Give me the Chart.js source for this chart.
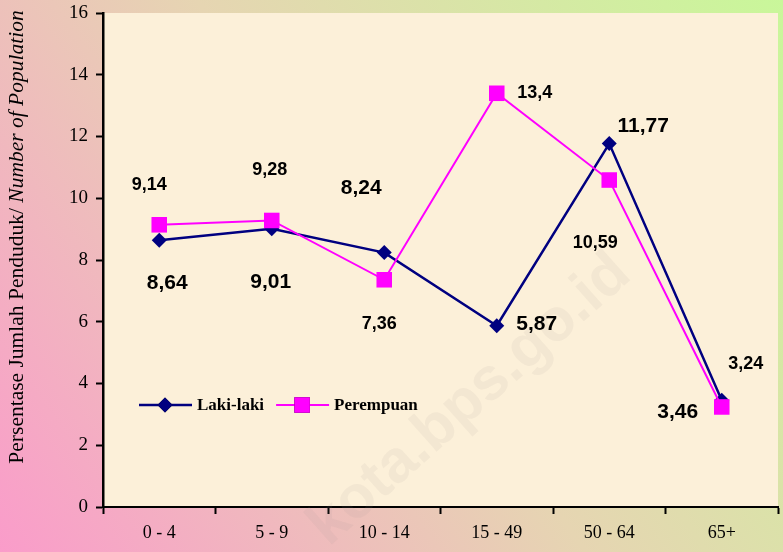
<!DOCTYPE html>
<html>
<head>
<meta charset="utf-8">
<script src="https://cdn.jsdelivr.net/npm/chart.js@4.4.0/dist/chart.umd.min.js"></script>
<style>
  html, body { margin: 0; padding: 0; background: #fff; overflow: hidden; }
  #wrap { width: 783px; height: 552px; }
  canvas { display: block; }
</style>
</head>
<body>
<div id="wrap"><canvas id="myChart" width="783" height="552"></canvas></div>
<script>
// data
var kelompokUmur = ['0 - 4', '5 - 9', '10 - 14', '15 - 49', '50 - 64', '65+'];
var lakiLaki = [8.64, 9.01, 8.24, 5.87, 11.77, 3.46];
var perempuan = [9.14, 9.28, 7.36, 13.4, 10.59, 3.24];
var yTicks = [0, 2, 4, 6, 8, 10, 12, 14, 16];
var judulY = ['Persentase Jumlah Penduduk/ ', 'Number of Population'];

// label offsets (px) from each point, as placed in the original
var offsetLaki = [[8, 43], [-1, 53], [-23, -64], [40, -2], [34, -17], [-44, 12]];
var offsetPerempuan = [[-10, -40], [-2, -50], [-5, 44], [38, 0], [-14, 63], [24, -43]];

function koma(v) {
  return String(v).replace('.', ',');
}

var latarPlugin = {
  id: 'latar',
  beforeDraw(chart) {
    var ctx = chart.ctx, a = chart.chartArea;
    var g = ctx.createLinearGradient(0, chart.height, chart.width, 0);
    g.addColorStop(0, '#fa9cca');
    g.addColorStop(0.5, '#e6d5b2');
    g.addColorStop(1, '#c9f79a');
    ctx.save();
    ctx.fillStyle = g;
    ctx.fillRect(0, 0, chart.width, chart.height);
    ctx.fillStyle = '#fcf0d9';
    ctx.fillRect(a.left, a.top, a.right - a.left, a.bottom - a.top);
    ctx.restore();
  },
  beforeDatasetsDraw(chart) {
    // watermark
    var ctx = chart.ctx;
    ctx.save();
    ctx.translate(470, 400);
    ctx.rotate(-41.5 * Math.PI / 180);
    ctx.font = 'bold 60px "Liberation Sans", Arial, sans-serif';
    ctx.fillStyle = 'rgba(150, 140, 140, 0.09)';
    ctx.textAlign = 'center';
    ctx.textBaseline = 'middle';
    ctx.fillText('kota.bps.go.id', 0, 0);
    ctx.restore();
  }
};

var labelPlugin = {
  id: 'labelTitik',
  afterDatasetsDraw(chart) {
    var ctx = chart.ctx;
    var setting = [
      { idx: 0, off: offsetLaki, size: 21 },
      { idx: 1, off: offsetPerempuan, size: 18 }
    ];
    ctx.save();
    ctx.fillStyle = '#000';
    ctx.textAlign = 'center';
    ctx.textBaseline = 'middle';
    setting.forEach(function (s) {
      var meta = chart.getDatasetMeta(s.idx);
      var data = chart.data.datasets[s.idx].data;
      ctx.font = 'bold ' + s.size + 'px "Liberation Sans", Arial, sans-serif';
      meta.data.forEach(function (pt, i) {
        ctx.fillText(koma(data[i]), pt.x + s.off[i][0], pt.y + s.off[i][1]);
      });
    });
    ctx.restore();
  },
  afterDraw(chart) {
    var ctx = chart.ctx;
    // y axis title, mixed regular / italic
    ctx.save();
    ctx.translate(17, 237);
    ctx.rotate(-Math.PI / 2);
    ctx.fillStyle = '#000';
    ctx.textBaseline = 'middle';
    var f1 = '21.5px "Liberation Serif", "Times New Roman", serif';
    var f2 = 'italic 21.5px "Liberation Serif", "Times New Roman", serif';
    ctx.font = f1;
    var w1 = ctx.measureText(judulY[0]).width;
    ctx.font = f2;
    var w2 = ctx.measureText(judulY[1]).width;
    var x0 = -(w1 + w2) / 2;
    ctx.font = f1;
    ctx.fillText(judulY[0], x0, 0);
    ctx.font = f2;
    ctx.fillText(judulY[1], x0 + w1, 0);
    ctx.restore();

    // legend inside the plot
    ctx.save();
    var x = 139, y = 405;
    ctx.font = 'bold 17px "Liberation Serif", "Times New Roman", serif';
    ctx.textBaseline = 'middle';
    chart.data.datasets.forEach(function (ds) {
      ctx.strokeStyle = ds.borderColor;
      ctx.lineWidth = ds.borderWidth;
      ctx.beginPath();
      ctx.moveTo(x, y);
      ctx.lineTo(x + 53, y);
      ctx.stroke();
      Chart.helpers.drawPoint(ctx, {
        pointStyle: ds.pointStyle,
        radius: ds.pointRadius,
        borderWidth: 0
      }, x + 26, y);
      ctx.fillStyle = ds.backgroundColor;
      ctx.fill();
      ctx.fillStyle = '#000';
      ctx.fillText(ds.label, x + 58, y + 1);
      x += 58 + ctx.measureText(ds.label).width + 12;
    });
    ctx.restore();
  }
};

var ctx = document.getElementById('myChart').getContext('2d');
var myChart = new Chart(ctx, {
  type: 'line',
  data: {
    labels: kelompokUmur,
    datasets: [{
      label: 'Laki-laki',
      data: lakiLaki,
      borderColor: '#000080',
      backgroundColor: '#000080',
      borderWidth: 2.5,
      pointStyle: 'rectRot',
      pointRadius: 7.5,
      pointBorderWidth: 0,
      order: 1
    }, {
      label: 'Perempuan',
      data: perempuan,
      borderColor: '#ff00ff',
      backgroundColor: '#ff00ff',
      borderWidth: 2,
      pointStyle: 'rect',
      pointRadius: 11,
      pointBorderWidth: 0,
      order: 0
    }]
  },
  options: {
    responsive: false,
    animation: false,
    layout: { autoPadding: false, padding: { top: 13, right: 5, left: 0, bottom: 0 } },
    plugins: {
      legend: { display: false },
      tooltip: { enabled: false }
    },
    scales: {
      x: {
        offset: true,
        grid: {
          drawOnChartArea: false,
          offset: true,
          tickLength: 7,
          tickColor: '#000',
          tickWidth: 2
        },
        border: { display: true, color: '#000', width: 2 },
        ticks: {
          color: '#000',
          padding: 8,
          maxRotation: 0,
          font: { family: '"Liberation Serif", "Times New Roman", serif', size: 18 }
        },
        afterFit(scale) {
          scale.height = 45;
          scale.paddingLeft = 0;
          scale.paddingRight = 0;
        }
      },
      y: {
        min: 0,
        max: 16,
        afterBuildTicks(scale) {
          scale.ticks = yTicks.map(function (v) { return { value: v }; });
        },
        grid: {
          drawOnChartArea: false,
          tickLength: 7,
          tickColor: '#000',
          tickWidth: 2
        },
        border: { display: true, color: '#000', width: 2.5 },
        ticks: {
          color: '#000',
          padding: 8,
          font: { family: '"Liberation Serif", "Times New Roman", serif', size: 19 }
        },
        afterFit(scale) {
          scale.width = 103;
          scale.paddingTop = 0;
          scale.paddingBottom = 0;
        }
      }
    }
  },
  plugins: [latarPlugin, labelPlugin]
});
</script>
</body>
</html>
